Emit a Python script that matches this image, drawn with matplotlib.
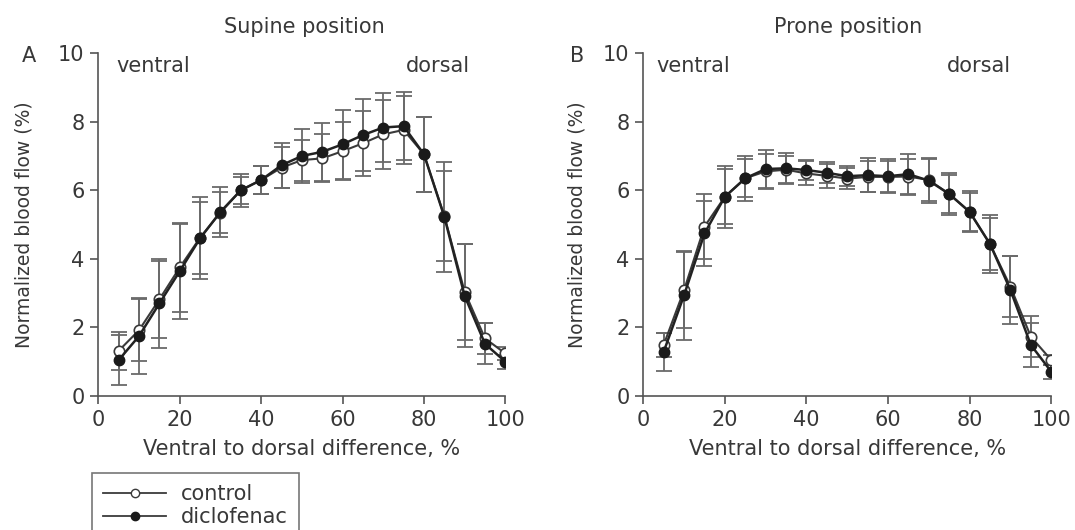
import numpy as np
import matplotlib
matplotlib.use("Agg")
import matplotlib.pyplot as plt
from matplotlib.lines import Line2D

plt.rcParams['font.family'] = ['DejaVu Sans']

# percent of the ventral-to-dorsal distance
depth = [5, 10, 15, 20, 25, 30, 35, 40, 45, 50, 55, 60, 65, 70, 75, 80, 85, 90, 95, 100]

# supine position
supine_ctrl = [1.32, 1.92, 2.82, 3.75, 4.62, 5.35, 6.00, 6.30, 6.66, 6.88,
               6.93, 7.14, 7.37, 7.63, 7.76, 7.05, 5.25, 3.04, 1.68, 1.24]
supine_ctrl_sd = [0.55, 0.90, 1.13, 1.30, 1.05, 0.60, 0.40, 0.40, 0.60, 0.60,
                  0.70, 0.85, 0.95, 1.00, 1.00, 1.10, 1.30, 1.40, 0.45, 0.20]
supine_diclo = [1.05, 1.75, 2.70, 3.64, 4.60, 5.37, 6.00, 6.30, 6.73, 7.00,
                7.12, 7.34, 7.61, 7.83, 7.87, 7.05, 5.23, 2.92, 1.52, 1.00]
supine_diclo_sd = [0.72, 1.10, 1.30, 1.38, 1.20, 0.72, 0.48, 0.42, 0.65, 0.80,
                   0.85, 1.00, 1.05, 1.00, 1.00, 1.10, 1.60, 1.50, 0.60, 0.20]

# prone position
prone_ctrl = [1.49, 3.09, 4.94, 5.81, 6.35, 6.55, 6.60, 6.49, 6.42, 6.34,
              6.39, 6.39, 6.40, 6.30, 5.89, 5.37, 4.43, 3.19, 1.73, 1.05]
prone_ctrl_sd = [0.35, 1.10, 0.95, 0.80, 0.55, 0.50, 0.40, 0.35, 0.35, 0.30,
                 0.45, 0.45, 0.50, 0.60, 0.55, 0.55, 0.75, 0.90, 0.60, 0.15]
prone_diclo = [1.29, 2.94, 4.74, 5.81, 6.35, 6.62, 6.64, 6.59, 6.51, 6.41,
               6.44, 6.41, 6.47, 6.28, 5.89, 5.37, 4.43, 3.09, 1.49, 0.71]
prone_diclo_sd = [0.55, 1.30, 0.95, 0.90, 0.65, 0.55, 0.45, 0.30, 0.30, 0.30,
                  0.50, 0.50, 0.60, 0.65, 0.60, 0.60, 0.85, 1.00, 0.65, 0.20]

AX_COL = "#555555"
TXT_COL = "#383838"
LINE_COL = "#3a3a3a"
ERR_COL = "#6a6a6a"
FS = 15


def draw_panel(ax, ctrl, ctrl_sd, diclo, diclo_sd, title, title_x,
               ylabel_x, ventral_x, dorsal_x):
    # error bars first, then the two series on top
    ax.errorbar(depth, ctrl, yerr=ctrl_sd, fmt="none", ecolor=ERR_COL,
                elinewidth=1.3, capsize=5.5, capthick=1.3, zorder=2)
    ax.errorbar(depth, diclo, yerr=diclo_sd, fmt="none", ecolor=ERR_COL,
                elinewidth=1.3, capsize=5.5, capthick=1.3, zorder=2)
    ax.plot(depth, ctrl, "-o", color=LINE_COL, lw=1.5, ms=7.5,
            mfc="white", mec=LINE_COL, mew=1.2, zorder=3)
    ax.plot(depth, diclo, "-o", color="#222222", lw=1.8, ms=7.5,
            mfc="#1a1a1a", mec="#1a1a1a", zorder=4)

    ax.set_xlim(0, 100)
    ax.set_ylim(0, 10)
    ax.set_xticks([0, 20, 40, 60, 80, 100])
    ax.set_yticks([0, 2, 4, 6, 8, 10])
    for s in ["top", "right"]:
        ax.spines[s].set_visible(False)
    for s in ["left", "bottom"]:
        ax.spines[s].set_color(AX_COL)
        ax.spines[s].set_linewidth(1.2)
    ax.tick_params(direction="out", length=6, width=1.2, color=AX_COL,
                   labelcolor=TXT_COL, labelsize=FS, pad=4)
    ax.set_xlabel("Ventral to dorsal difference, %", fontsize=FS, color=TXT_COL)
    ax.xaxis.set_label_coords(0.5, -0.155)
    ax.xaxis.label.set_va("center")
    ax.set_ylabel("Normalized blood flow (%)", fontsize=13.5, color=TXT_COL)
    ax.yaxis.set_label_coords(ylabel_x, 0.5)
    ax.yaxis.label.set_va("center")
    ax.text(title_x, 1.076, title, transform=ax.transAxes, fontsize=FS,
            color=TXT_COL, ha="center", va="center")
    ax.text(ventral_x, 9.62, "ventral", fontsize=FS, color=TXT_COL, va="center")
    ax.text(dorsal_x, 9.62, "dorsal", fontsize=FS, color=TXT_COL, va="center")


fig = plt.figure(figsize=(10.75, 5.3), dpi=100)
ax1 = fig.add_axes([0.0915, 0.2528, 0.3786, 0.647])
ax2 = fig.add_axes([0.5984, 0.2528, 0.3795, 0.647])

draw_panel(ax1, supine_ctrl, supine_ctrl_sd, supine_diclo, supine_diclo_sd,
           "Supine position", 0.506, -0.182, 4.5, 75.5)
draw_panel(ax2, prone_ctrl, prone_ctrl_sd, prone_diclo, prone_diclo_sd,
           "Prone position", 0.502, -0.162, 3.2, 74.5)

fig.text(22 / 1075, 1 - 56 / 530, "A", fontsize=FS, color=TXT_COL, va="center")
fig.text(570 / 1075, 1 - 56 / 530, "B", fontsize=FS, color=TXT_COL, va="center")

handles = [
    Line2D([], [], color=LINE_COL, lw=1.3, marker="o", ms=6, mfc="white",
           mec=LINE_COL),
    Line2D([], [], color=LINE_COL, lw=1.3, marker="o", ms=6, mfc="#1a1a1a",
           mec="#1a1a1a"),
]
# legend box runs off the bottom edge of the figure
leg = fig.legend(handles, ["control", "diclofenac"], loc="upper left",
                 bbox_to_anchor=(92 / 1075, 1 - 473 / 530), fontsize=FS,
                 frameon=True, fancybox=False, handlelength=3.0,
                 handletextpad=0.7, borderpad=0.55, labelspacing=0.12,
                 borderaxespad=0)
leg.get_frame().set_edgecolor(AX_COL)
leg.get_frame().set_linewidth(1.2)
for t in leg.get_texts():
    t.set_color(TXT_COL)

fig.savefig("out.png", dpi=100)
